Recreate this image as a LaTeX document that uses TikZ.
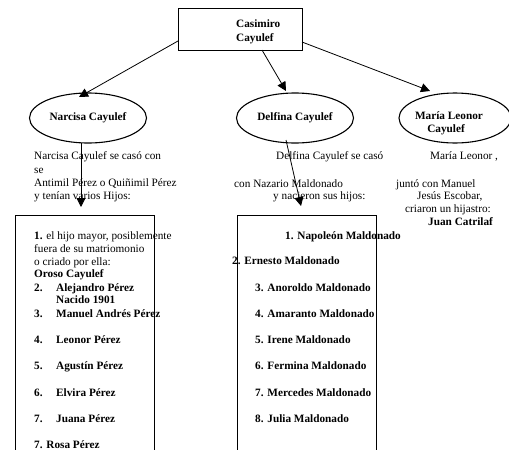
\documentclass[tikz,border=0pt]{standalone}
\usepackage{fontspec}
\setmainfont{Liberation Serif}
\usetikzlibrary{arrows.meta,shapes.geometric}
\begin{document}
\begin{tikzpicture}[x=1pt,y=-1pt,
  txt/.style={anchor=base west,inner sep=0pt,font=\fontsize{11.25}{13}\selectfont},
  btxt/.style={txt,font=\fontsize{11.25}{13}\selectfont\bfseries},
  oval/.style={draw,line width=1.1pt,ellipse,minimum width=117pt,minimum height=50pt,inner sep=0pt},
  listbox/.style={draw,line width=0.9pt},
  arr/.style={line width=0.8pt,-{Triangle[length=9pt,width=9pt]}}]
\useasboundingbox (0,0) rectangle (509,450);
\clip (0,0) rectangle (509,450);
% top box
\draw[line width=0.9pt] (178,8) rectangle (302,50);
\node[btxt] (cas1) at (236,27) {Casimiro};
\node[btxt] (cas2) at (236,41) {Cayulef};
\coordinate (casL) at (178,41);
\coordinate (casM) at (262,50);
\coordinate (casR) at (302,42);
% ellipses
\node[oval] (nar) at (88,118) {};
\node[oval] (del) at (295,118) {};
\node[oval,minimum width=112pt] (mar) at (455,118) {};
\node[btxt,anchor=base] (narT) at (88,120) {Narcisa Cayulef};
\node[btxt,anchor=base] (delT) at (295,120) {Delfina Cayulef};
\node[btxt,anchor=base] (marT1) at (449,119) {María Leonor};
\node[btxt,anchor=base] (marT2) at (446,132) {Cayulef};
\coordinate (narTop) at (79,97);
\coordinate (delTop) at (286,91);
\coordinate (marTop) at (430,91);
\draw[arr] (casL) -- (narTop);
\draw[arr] (casM) -- (delTop);
\draw[arr] (casR) -- (marTop);
% Narcisa text
\node[txt] (n1) at (34,159) {Narcisa Cayulef se casó con};
\node[txt] (n2) at (34,173) {se};
\node[txt] (n3) at (34,186) {Antimil Pérez o Quiñimil Pérez};
\node[txt] (n4) at (34,199) {y tenían varios Hijos:};
% Delfina text
\node[txt] (d1) at (276,159) {Delfina Cayulef se casó};
\node[txt] (d2) at (234,187) {con Nazario Maldonado};
\node[txt] (d3) at (273,199) {y nacieron sus hijos:};
% Maria text
\node[txt] (m1) at (430,159) {María Leonor ,};
\node[txt] (m2) at (396,187) {juntó con Manuel};
\node[txt] (m3) at (417,199) {Jesús Escobar,};
\node[txt] (m4) at (405,212) {criaron un hijastro:};
\node[btxt] (m5) at (428,225) {Juan Catrilaf};
% boxes
\draw[listbox] (15,215) rectangle (154,470);
\draw[listbox] (237,215) rectangle (376,470);
\coordinate (narBot) at (81,143);
\coordinate (narBox) at (81,207);
\coordinate (delBot) at (286,140);
\coordinate (delBox) at (301,206);
\draw[arr] (narBot) -- (narBox);
\draw[arr] (delBot) -- (delBox);
% left list
\node[txt] (l1) at (34,239) {\textbf{1.} el hijo mayor, posiblemente};
\node[txt] (l1b) at (34,252) {fuera de su matriomonio};
\node[txt] (l1c) at (34,265) {o criado por ella:};
\node[btxt] (l1d) at (34,277) {Oroso Cayulef};
\node[btxt] (l2n) at (34,291) {2.};
\node[btxt] (l2) at (56,291) {Alejandro Pérez};
\node[btxt] (l2b) at (56,303) {Nacido 1901};
\node[btxt] (l3n) at (34,317) {3.};
\node[btxt] (l3) at (56,317) {Manuel Andrés Pérez};
\node[btxt] (l4n) at (34,343) {4.};
\node[btxt] (l4) at (56,343) {Leonor Pérez};
\node[btxt] (l5n) at (34,369) {5.};
\node[btxt] (l5) at (56,369) {Agustín Pérez};
\node[btxt] (l6n) at (34,396) {6.};
\node[btxt] (l6) at (56,396) {Elvira Pérez};
\node[btxt] (l7n) at (34,422) {7.};
\node[btxt] (l7) at (56,422) {Juana Pérez};
\node[btxt] (l8) at (34,448) {7. Rosa Pérez};
% middle list
\node[btxt] (r1) at (285,239) {1. Napoleón Maldonado};
\node[btxt] (r2) at (232,264) {2. Ernesto Maldonado};
\node[btxt] (r3) at (255,291) {3. Anoroldo Maldonado};
\node[btxt] (r4) at (255,317) {4. Amaranto Maldonado};
\node[btxt] (r5) at (255,343) {5. Irene Maldonado};
\node[btxt] (r6) at (255,369) {6. Fermina Maldonado};
\node[btxt] (r7) at (255,396) {7. Mercedes Maldonado};
\node[btxt] (r8) at (255,422) {8. Julia Maldonado};
\end{tikzpicture}
\end{document}
